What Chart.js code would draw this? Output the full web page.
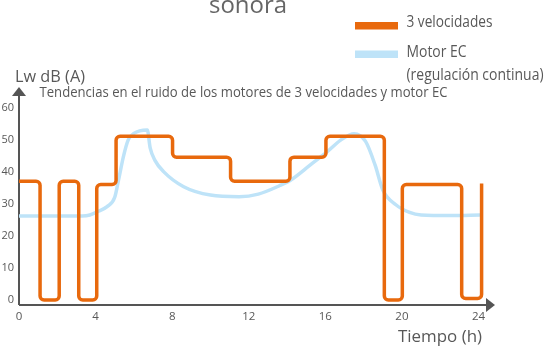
<!DOCTYPE html>
<html>
<head>
<meta charset="utf-8">
<script src="https://cdn.jsdelivr.net/npm/chart.js@4/dist/chart.umd.min.js"></script>
<style>
  html, body { margin: 0; padding: 0; background: #ffffff; }
  #wrap { position: relative; width: 549px; height: 348px; overflow: hidden; }
  canvas { display: block; }
</style>
</head>
<body>
<div id="wrap"><canvas id="chart" width="549" height="348"></canvas></div>
<script>
// Three-speed motor: step changes of level (hour where each level starts)
const stepHours   = [0, 1.1, 2.1, 3.12, 4.06, 5.07, 8.02, 11.05, 14.15, 16.03, 19.08, 20.02, 23.12, 24.16];
const speedLevels = [37, 0, 37, 0, 36, 51, 44.5, 37, 44.5, 51, 0, 36, 0.5];
const speedEndLevel = 36.3;

// EC motor: continuous regulation
const ecHours  = [0, 3.3, 3.7, 4.1, 4.6, 5.0, 5.2, 5.45, 5.7, 6.0, 6.7, 6.85, 7.1, 7.55, 8.6, 10, 11.5, 12.5, 13.6, 14.2, 15.2, 16.1, 16.8, 17.5, 18.1, 18.6, 19.0, 19.7, 20.4, 21, 22.5, 24.1];
const ecLevels = [26.2, 26.2, 26.5, 27.5, 29.1, 32, 37.4, 44.6, 49.8, 51.9, 53, 47.4, 43.5, 40, 35.3, 32.7, 32.2, 33, 35.6, 37.4, 42, 46.2, 49.8, 51.8, 49.4, 42, 34.3, 29.6, 27.3, 26.5, 26.3, 26.5];

// Axis ticks
const xTicks = [0, 4, 8, 12, 16, 20, 24];
const yTicks = [0, 10, 20, 30, 40, 50, 60];

const ORANGE = '#E8690D';
const BLUE = '#BEE3F8';
const AXIS = '#555555';
const TEXT = '#585858';
const FONT = '"Open Sans", "Noto Sans", sans-serif';
const CORNER_RADIUS = 4;

// Build the stepped series as corner points
const speedPoints = [];
for (let i = 0; i < speedLevels.length; i++) {
  speedPoints.push({ x: stepHours[i], y: speedLevels[i] });
  speedPoints.push({ x: stepHours[i + 1], y: speedLevels[i] });
}
speedPoints.push({ x: stepHours[stepHours.length - 1], y: speedEndLevel });

const ecPoints = ecHours.map((h, i) => ({ x: h, y: ecLevels[i] }));

function text(ctx, str, x, y, size, align, maxW, color) {
  ctx.save();
  ctx.font = size + 'px ' + FONT;
  ctx.fillStyle = color || TEXT;
  ctx.textAlign = align || 'left';
  ctx.textBaseline = 'alphabetic';
  if (maxW) ctx.fillText(str, x, y, maxW); else ctx.fillText(str, x, y);
  ctx.restore();
}

// Strokes the stepped dataset through its own point elements, with rounded corners
const roundedSteps = {
  id: 'roundedSteps',
  beforeDatasetDraw(chart, args) {
    if (args.index !== 0) return;
    const meta = args.meta;
    const pts = meta.data;
    const ds = chart.data.datasets[0];
    const ctx = chart.ctx;
    ctx.save();
    ctx.strokeStyle = ds.borderColor;
    ctx.lineWidth = ds.borderWidth;
    ctx.lineJoin = 'round';
    ctx.lineCap = 'butt';
    ctx.beginPath();
    ctx.moveTo(pts[0].x, pts[0].y);
    for (let i = 1; i < pts.length - 1; i++) {
      const a = pts[i], b = pts[i + 1];
      const prev = pts[i - 1];
      const lenIn = Math.hypot(a.x - prev.x, a.y - prev.y);
      const lenOut = Math.hypot(b.x - a.x, b.y - a.y);
      const r = Math.min(CORNER_RADIUS, lenIn / 2, lenOut / 2);
      ctx.arcTo(a.x, a.y, b.x, b.y, r);
    }
    const last = pts[pts.length - 1];
    ctx.lineTo(last.x, last.y);
    ctx.stroke();
    ctx.restore();
    return false;
  }
};

const decor = {
  id: 'decor',
  beforeDatasetsDraw(chart) {
    const ctx = chart.ctx;
    const xs = chart.scales.x, ys = chart.scales.y;
    const x0 = xs.getPixelForValue(0);
    const yBase = chart.chartArea.bottom;
    const xEnd = chart.chartArea.right;
    const yTop = chart.chartArea.top;
    ctx.save();
    ctx.strokeStyle = AXIS;
    ctx.fillStyle = AXIS;
    ctx.lineWidth = 2;
    // y axis with arrow
    ctx.beginPath();
    ctx.moveTo(x0, yBase);
    ctx.lineTo(x0, yTop + 8);
    ctx.stroke();
    ctx.beginPath();
    ctx.moveTo(x0, yTop);
    ctx.lineTo(x0 - 7, yTop + 9);
    ctx.lineTo(x0 + 7, yTop + 9);
    ctx.closePath();
    ctx.fill();
    // x axis with arrow
    ctx.beginPath();
    ctx.moveTo(x0, yBase);
    ctx.lineTo(xEnd - 8, yBase);
    ctx.stroke();
    ctx.beginPath();
    ctx.moveTo(xEnd, yBase);
    ctx.lineTo(xEnd - 9, yBase - 7);
    ctx.lineTo(xEnd - 9, yBase + 7);
    ctx.closePath();
    ctx.fill();
    ctx.restore();

    // tick labels
    yTicks.forEach(v => {
      ctx.save();
      ctx.font = '11px ' + FONT;
      ctx.fillStyle = TEXT;
      ctx.textAlign = 'right';
      ctx.textBaseline = 'middle';
      ctx.fillText(String(v), x0 - 5, ys.getPixelForValue(v));
      ctx.restore();
    });
    xTicks.forEach(v => {
      ctx.save();
      ctx.font = '11.5px ' + FONT;
      ctx.fillStyle = TEXT;
      ctx.textAlign = 'center';
      ctx.textBaseline = 'middle';
      ctx.fillText(String(v), xs.getPixelForValue(v), yBase + 12);
      ctx.restore();
    });
  },
  afterDraw(chart) {
    const ctx = chart.ctx;
    // heading (upper line lies outside the canvas)
    text(ctx, 'sonora', 209, 12.7, 24, 'left', 78, '#666666');
    // legend
    ctx.save();
    ctx.fillStyle = ORANGE;
    ctx.fillRect(355, 22, 43, 7.5);
    ctx.fillStyle = BLUE;
    ctx.fillRect(355, 50.5, 43, 7.5);
    ctx.restore();
    text(ctx, '3 velocidades', 406.5, 26.7, 16, 'left', 86);
    text(ctx, 'Motor EC', 406.5, 56.7, 16, 'left', 60);
    text(ctx, '(regulación continua)', 406.5, 79.5, 16, 'left', 137);
    // axis titles and subtitle
    text(ctx, 'Lw dB (A)', 15, 81.5, 17, 'left', 70);
    text(ctx, 'Tendencias en el ruido de los motores de 3 velocidades y motor EC', 39.5, 96.7, 15, 'left', 408);
    text(ctx, 'Tiempo (h)', 398, 342, 17, 'left', 84);
  }
};

new Chart(document.getElementById('chart'), {
  type: 'line',
  data: {
    datasets: [
      {
        label: '3 velocidades',
        data: speedPoints,
        borderColor: ORANGE,
        borderWidth: 3.5,
        borderJoinStyle: 'round',
        pointRadius: 0,
        tension: 0,
        fill: false,
        order: 0
      },
      {
        label: 'Motor EC (regulación continua)',
        data: ecPoints,
        borderColor: BLUE,
        borderWidth: 3.5,
        cubicInterpolationMode: 'monotone',
        pointRadius: 0,
        fill: false,
        order: 1
      }
    ]
  },
  options: {
    responsive: false,
    animation: false,
    devicePixelRatio: 1,
    layout: { padding: { left: 19, right: 54, top: 87, bottom: 43 } },
    plugins: { legend: { display: false }, tooltip: { enabled: false }, title: { display: false } },
    scales: {
      x: { type: 'linear', min: 0, max: 24.86, display: false },
      y: { type: 'linear', min: -1.56, max: 66.36, display: false }
    },
    elements: { line: { clip: false } }
  },
  plugins: [decor, roundedSteps]
});
</script>
</body>
</html>
